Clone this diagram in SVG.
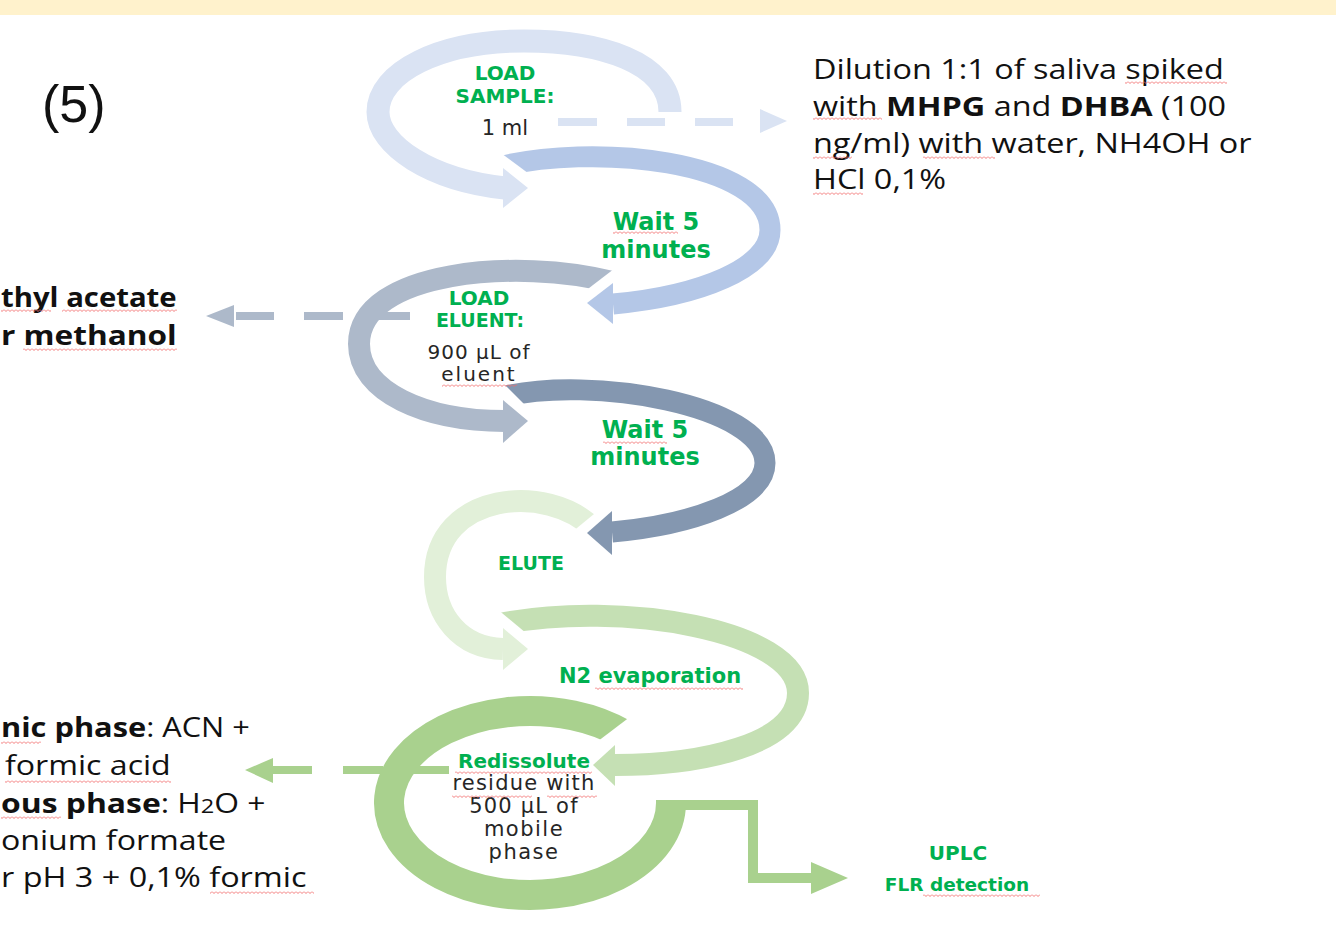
<svg xmlns="http://www.w3.org/2000/svg" width="1336" height="927" viewBox="0 0 1336 927">
<style>
.g{font-family:"DejaVu Sans",sans-serif;font-weight:bold;fill:#00B050;text-anchor:middle}
.k{font-family:"DejaVu Sans",sans-serif;fill:#262626;text-anchor:middle}
.c{font-family:"Open Sans",sans-serif;fill:#111;font-size:27px}
.b{font-weight:bold}
.sq{fill:url(#sq)}
</style>
<defs>
<pattern id="sq" width="4" height="3" patternUnits="userSpaceOnUse"><path d="M0,0.5 L2,2.5 L4,0.5" fill="none" stroke="#F26B6B" stroke-width="0.9"/></pattern>
<mask id="m2" maskUnits="userSpaceOnUse" x="0" y="0" width="1336" height="927"><rect width="1336" height="927" fill="#fff"/><polygon points="490,145 540,182 515,210 455,170" fill="#000"/></mask>
<mask id="m3" maskUnits="userSpaceOnUse" x="0" y="0" width="1336" height="927"><rect width="1336" height="927" fill="#fff"/><polygon points="623,262 580,295 600,312 648,280" fill="#000"/></mask>
<mask id="m4" maskUnits="userSpaceOnUse" x="0" y="0" width="1336" height="927"><rect width="1336" height="927" fill="#fff"/><polygon points="497,377 532,412 510,425 480,395" fill="#000"/></mask>
<mask id="m5" maskUnits="userSpaceOnUse" x="0" y="0" width="1336" height="927"><rect width="1336" height="927" fill="#fff"/><polygon points="605,505 566,537 590,550 620,525" fill="#000"/></mask>
<mask id="m6" maskUnits="userSpaceOnUse" x="0" y="0" width="1336" height="927"><rect width="1336" height="927" fill="#fff"/><polygon points="490,603 532,638 505,650 470,620" fill="#000"/></mask>
<mask id="m7" maskUnits="userSpaceOnUse" x="0" y="0" width="1336" height="927"><rect width="1336" height="927" fill="#fff"/><polygon points="585,751 643,707 665,735 610,775" fill="#000"/></mask>
</defs>
<rect x="0" y="0" width="1336" height="15" fill="#FFF2CC"/>

<g id="connectors" fill="none" stroke-linecap="butt">
  <path d="M670,112 C670,62 600,41 524,41 C440,41 378,72 378,112 C378,145 430,180 505,188" stroke="#DAE3F3" stroke-width="23"/>
  <polygon points="503,168 528,188 503,208" fill="#DAE3F3"/>
  <path d="M495,168 C590,142 770,160 770,230 C770,268 700,296 613,304" stroke="#B4C7E7" stroke-width="21" mask="url(#m2)"/>
  <polygon points="613,283 587,303 613,324" fill="#B4C7E7"/>
  <path d="M612,282 C520,258 359,270 359,344 C359,392 425,421 505,421" stroke="#ADB9CA" stroke-width="22" mask="url(#m3)"/>
  <polygon points="503,400 528,421 503,443" fill="#ADB9CA"/>
  <path d="M502,397 C590,375 765,405 765,463 C765,500 690,525 612,532" stroke="#8497B0" stroke-width="21" mask="url(#m4)"/>
  <polygon points="612,511 587,533 612,555" fill="#8497B0"/>
  <path d="M594,529 C548,482 435,492 435,577 C435,615 460,648 503,649" stroke="#E2F0D9" stroke-width="22" mask="url(#m5)"/>
  <polygon points="503,628 528,649 503,670" fill="#E2F0D9"/>
  <path d="M500,624 C620,600 798,630 798,693 C798,745 700,765 615,765" stroke="#C5E0B4" stroke-width="22" mask="url(#m6)"/>
  <polygon points="615,745 593,765 615,786" fill="#C5E0B4"/>
  <path d="M625,735 A141,92 0 1 0 671,803 L671,800" stroke="#A9D18E" stroke-width="30" mask="url(#m7)"/>
  <path d="M671,805 L753,805 L753,878 L812,878" stroke="#A9D18E" stroke-width="10" stroke-linejoin="miter"/>
  <polygon points="811,862 848,878 811,894" fill="#A9D18E"/>
  <g fill="#DAE3F3">
    <rect x="558" y="118" width="39" height="8"/><rect x="627" y="118" width="38" height="8"/><rect x="695" y="118" width="38" height="8"/>
    <polygon points="760,109 787,121 760,133"/>
  </g>
  <g fill="#ADB9CA">
    <rect x="236" y="312" width="38" height="8"/><rect x="304" y="312" width="39" height="8"/><rect x="379" y="312" width="31" height="8"/>
    <polygon points="234,305 206,316 234,327"/>
  </g>
  <g fill="#A9D18E">
    <rect x="273" y="766" width="39" height="8"/><rect x="343" y="766" width="40" height="8"/><rect x="410" y="766" width="39" height="8"/>
    <polygon points="273,758 245,770 273,783"/>
  </g>
</g>

<g id="label-5"><text x="42" y="122" font-family="Liberation Sans, sans-serif" font-size="52" fill="#111">(5)</text></g>

<g id="node-load-sample">
  <text class="g" x="505" y="80" font-size="20">LOAD</text>
  <text class="g" x="505" y="103" font-size="20">SAMPLE:</text>
  <text class="k" x="505" y="135" font-size="21">1 ml</text>
</g>
<g id="node-wait-1">
  <text class="g" x="656" y="230" font-size="24">Wait 5</text>
  <text class="g" x="656" y="258" font-size="24">minutes</text>
  <rect class="sq" x="613" y="231" width="65" height="3"/>
</g>
<g id="node-load-eluent">
  <text class="g" x="479" y="305" font-size="20">LOAD</text>
  <text class="g" x="480" y="327" font-size="19">ELUENT:</text>
  <text class="k" x="479" y="359" font-size="20" letter-spacing="1">900 µL of</text>
  <text class="k" x="479" y="381" font-size="20" letter-spacing="2">eluent</text>
  <rect class="sq" x="442" y="384" width="75" height="3"/>
</g>
<g id="node-wait-2">
  <text class="g" x="645" y="438" font-size="24">Wait 5</text>
  <text class="g" x="645" y="465" font-size="24">minutes</text>
  <rect class="sq" x="603" y="441" width="64" height="3"/>
</g>
<g id="node-elute"><text class="g" x="531" y="570" font-size="19">ELUTE</text></g>
<g id="node-n2">
  <text class="g" x="650" y="683" font-size="21">N2 evaporation</text>
  <rect class="sq" x="595" y="687" width="148" height="3"/>
</g>
<g id="node-redissolute">
  <text class="g" x="524" y="768" font-size="20">Redissolute</text>
  <text class="k" x="524" y="790" font-size="21" letter-spacing="1.2">residue with</text>
  <text class="k" x="524" y="813" font-size="21" letter-spacing="1.2">500 µL of</text>
  <text class="k" x="524" y="836" font-size="21" letter-spacing="1.5">mobile</text>
  <text class="k" x="524" y="859" font-size="21" letter-spacing="1.5">phase</text>
  <rect class="sq" x="455" y="771" width="137" height="3"/>
  <rect class="sq" x="452" y="795" width="80" height="3"/>
  <rect class="sq" x="547" y="795" width="50" height="3"/>
</g>
<g id="node-uplc">
  <text class="g" x="958" y="860" font-size="20">UPLC</text>
  <text class="g" x="957" y="891" font-size="18.5">FLR detection</text>
  <rect class="sq" x="923" y="894" width="117" height="3"/>
</g>

<g id="node-dilution">
  <g transform="translate(813,0) scale(1.2,1)">
    <text class="c" x="0" y="79">Dilution 1:1 of saliva spiked</text>
    <text class="c" x="0" y="116">with <tspan class="b">MHPG</tspan> and <tspan class="b">DHBA</tspan> (100</text>
    <text class="c" x="0" y="153">ng/ml) with water, NH4OH or</text>
    <text class="c" x="0" y="189">HCl 0,1%</text>
  </g>
  <rect class="sq" x="1125" y="81" width="102" height="3"/>
  <rect class="sq" x="813" y="117" width="69" height="3"/>
  <rect class="sq" x="813" y="156" width="39" height="3"/>
  <rect class="sq" x="923" y="156" width="72" height="3"/>
  <rect class="sq" x="813" y="192" width="50" height="3"/>
</g>

<g id="node-eluent-solvent">
  <text class="c b" transform="translate(1,307) scale(1.085,1)" x="0" y="0">thyl acetate</text>
  <text class="c b" transform="translate(1,345) scale(1.17,1)" x="0" y="0">r methanol</text>
  <rect class="sq" x="1" y="309" width="50" height="3"/>
  <rect class="sq" x="62" y="309" width="115" height="3"/>
  <rect class="sq" x="23" y="348" width="154" height="3"/>
</g>

<g id="node-mobile-phase">
  <text class="c" transform="translate(1,737) scale(1.14,1)" x="0" y="0"><tspan class="b">nic phase</tspan>: ACN +</text>
  <text class="c" transform="translate(5,775) scale(1.19,1)" x="0" y="0">formic acid</text>
  <text class="c" transform="translate(1,813) scale(1.18,1)" x="0" y="0"><tspan class="b">ous phase</tspan>: H<tspan font-size="20">2</tspan>O +</text>
  <text class="c" transform="translate(1,850) scale(1.19,1)" x="0" y="0">onium formate</text>
  <text class="c" transform="translate(1,887) scale(1.2,1)" x="0" y="0">r pH 3 + 0,1% formic</text>
  <rect class="sq" x="1" y="741" width="40" height="3"/>
  <rect class="sq" x="5" y="780" width="166" height="3"/>
  <rect class="sq" x="1" y="816" width="60" height="3"/>
  <rect class="sq" x="210" y="891" width="104" height="3"/>
</g>
</svg>
